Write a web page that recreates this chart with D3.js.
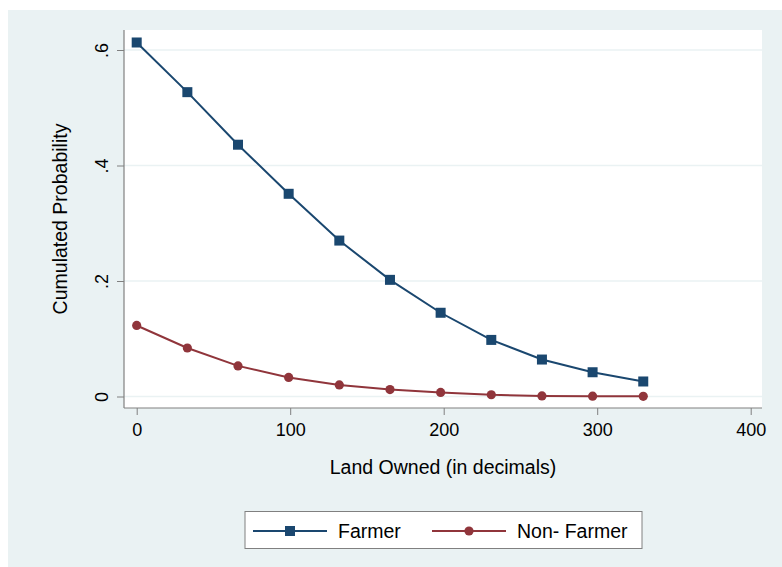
<!DOCTYPE html>
<html>
<head>
<meta charset="utf-8">
<script src="https://cdn.jsdelivr.net/npm/d3@7"></script>
<style>
  body { margin: 0; background: #fff; }
  svg { display: block; font-family: "Liberation Sans", Arial, sans-serif; }
</style>
</head>
<body>
<svg id="chart" width="782" height="567"></svg>
<script>
// Data
const landOwned = [0, 33, 66, 99, 132, 165, 198, 231, 264, 297, 330];
const farmer = [0.613, 0.527, 0.436, 0.351, 0.270, 0.202, 0.145, 0.098, 0.064, 0.042, 0.026];
const nonFarmer = [0.123, 0.084, 0.053, 0.033, 0.020, 0.012, 0.007, 0.003, 0.001, 0.0005, 0.0003];
const xTicks = [0, 100, 200, 300, 400];
const yTicks = [0, 0.2, 0.4, 0.6];
const seriesNames = ["Farmer", "Non- Farmer"];

const svg = d3.select("#chart");
const bg = "#eaf2f3";
const navy = "#1a476f";
const maroon = "#90353b";
const axisColor = "#808080";

// plot area
const plot = { left: 124, right: 762, top: 30, bottom: 408 };

// outer graph region
svg.append("rect")
    .attr("x", 8).attr("y", 10)
    .attr("width", 782 - 8).attr("height", 567 - 10)
    .attr("fill", bg);

svg.append("rect")
    .attr("x", plot.left).attr("y", plot.top)
    .attr("width", plot.right - plot.left).attr("height", plot.bottom - plot.top)
    .attr("fill", "#fff");

const x = d3.scaleLinear().domain([0, 400]).range([136.7, 750.7]);
const y = d3.scaleLinear().domain([0, 0.6]).range([396.5, 50]);

// gridlines
svg.append("g")
    .selectAll("line")
    .data(yTicks)
    .join("line")
    .attr("x1", plot.left).attr("x2", plot.right)
    .attr("y1", d => y(d)).attr("y2", d => y(d))
    .attr("stroke", bg)
    .attr("stroke-width", 1.5);

// x axis
const xAxis = svg.append("g")
    .attr("transform", `translate(0,${plot.bottom})`)
    .call(d3.axisBottom(x).tickValues(xTicks).tickSize(7).tickPadding(8).tickFormat(d3.format("d")));
xAxis.select(".domain").remove();
xAxis.selectAll("line").attr("stroke", axisColor);
xAxis.selectAll("text").attr("font-size", 18).attr("fill", "#000")
    .attr("font-family", "Liberation Sans, Arial, sans-serif");

// y axis
const yAxis = svg.append("g")
    .attr("transform", `translate(${plot.left},0)`)
    .call(d3.axisLeft(y).tickValues(yTicks).tickSize(7).tickFormat(d => d === 0 ? "0" : String(d).replace("0.", ".")));
yAxis.select(".domain").remove();
yAxis.selectAll("line").attr("stroke", axisColor);
yAxis.selectAll("text")
    .attr("font-size", 18).attr("fill", "#000")
    .attr("font-family", "Liberation Sans, Arial, sans-serif")
    .attr("x", null).attr("dy", null)
    .attr("text-anchor", "middle")
    .attr("transform", "translate(-16,0) rotate(-90)");

// axis lines
svg.append("line")
    .attr("x1", plot.left).attr("x2", plot.right)
    .attr("y1", plot.bottom).attr("y2", plot.bottom)
    .attr("stroke", axisColor).attr("stroke-width", 1.2);
svg.append("line")
    .attr("x1", plot.left).attr("x2", plot.left)
    .attr("y1", plot.top).attr("y2", plot.bottom)
    .attr("stroke", axisColor).attr("stroke-width", 1.2);

// axis titles
svg.append("text")
    .attr("x", (plot.left + plot.right) / 2)
    .attr("y", 474)
    .attr("text-anchor", "middle")
    .attr("font-size", 19.5)
    .text("Land Owned (in decimals)");

svg.append("text")
    .attr("transform", `translate(67,${(plot.top + plot.bottom) / 2}) rotate(-90)`)
    .attr("text-anchor", "middle")
    .attr("font-size", 19.5)
    .text("Cumulated Probability");

// lines
const line = d3.line().x(d => x(d[0])).y(d => y(d[1]));
const farmerPts = landOwned.map((v, i) => [v, farmer[i]]);
const nonFarmerPts = landOwned.map((v, i) => [v, nonFarmer[i]]);

svg.append("path").datum(nonFarmerPts)
    .attr("d", line).attr("fill", "none")
    .attr("stroke", maroon).attr("stroke-width", 2);
svg.append("g").selectAll("circle")
    .data(nonFarmerPts)
    .join("circle")
    .attr("cx", d => x(d[0])).attr("cy", d => y(d[1]))
    .attr("r", 4.6).attr("fill", maroon);

svg.append("path").datum(farmerPts)
    .attr("d", line).attr("fill", "none")
    .attr("stroke", navy).attr("stroke-width", 2);
svg.append("g").selectAll("rect")
    .data(farmerPts)
    .join("rect")
    .attr("x", d => x(d[0]) - 5).attr("y", d => y(d[1]) - 5)
    .attr("width", 10).attr("height", 10)
    .attr("fill", navy);

// legend
const legend = svg.append("g");
legend.append("rect")
    .attr("x", 245).attr("y", 511.5)
    .attr("width", 397).attr("height", 37)
    .attr("fill", "#fff")
    .attr("stroke", "#808080").attr("stroke-width", 1);

const legendItems = [
    { label: seriesNames[0], color: navy, shape: "square", x0: 253 },
    { label: seriesNames[1], color: maroon, shape: "circle", x0: 432 }
];
legendItems.forEach(d => {
    const row = legend.append("g").attr("transform", `translate(${d.x0},531)`);
    row.append("line")
        .attr("x1", 0).attr("x2", 74)
        .attr("stroke", d.color).attr("stroke-width", 2);
    if (d.shape === "square") {
        row.append("rect").attr("x", 37 - 5).attr("y", -5)
            .attr("width", 10).attr("height", 10).attr("fill", d.color);
    } else {
        row.append("circle").attr("cx", 37).attr("r", 4.6).attr("fill", d.color);
    }
    row.append("text")
        .attr("x", 85).attr("y", 7)
        .attr("font-size", 19.5)
        .text(d.label);
});
</script>
</body>
</html>
